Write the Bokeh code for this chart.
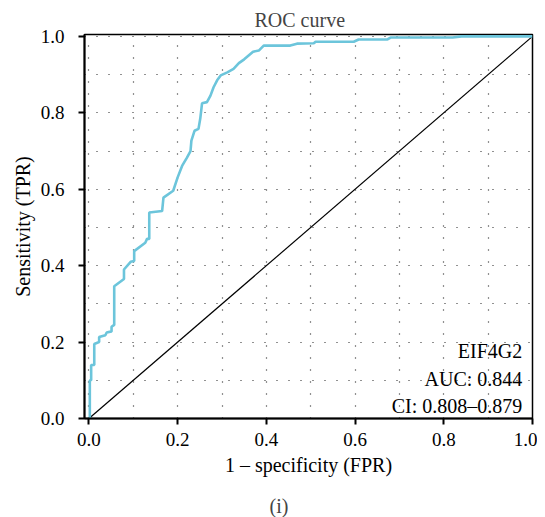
from bokeh.plotting import figure
from bokeh.models import Range1d, FixedTicker, Label, Title
from bokeh.embed import file_html
from bokeh.resources import INLINE

# ROC curve vertices
fpr = [0.0, 0.002, 0.002, 0.005, 0.005, 0.012, 0.012, 0.023, 0.023, 0.037, 0.040,
       0.051, 0.051, 0.057, 0.057, 0.079, 0.079, 0.094, 0.102, 0.102, 0.127, 0.131,
       0.136, 0.136, 0.165, 0.168, 0.190, 0.200, 0.210, 0.221, 0.229, 0.231, 0.238,
       0.247, 0.251, 0.255, 0.266, 0.274, 0.281, 0.289, 0.297, 0.312, 0.326, 0.338,
       0.350, 0.360, 0.370, 0.383, 0.394, 0.454, 0.469, 0.507, 0.511, 0.597, 0.608,
       0.673, 0.680, 0.820, 0.840, 1.0]
tpr = [0.0, 0.0, 0.100, 0.100, 0.140, 0.140, 0.195, 0.200, 0.213, 0.218, 0.225,
       0.228, 0.240, 0.245, 0.346, 0.365, 0.390, 0.410, 0.412, 0.438, 0.460, 0.470,
       0.470, 0.539, 0.543, 0.578, 0.596, 0.631, 0.661, 0.683, 0.700, 0.727, 0.753,
       0.758, 0.785, 0.825, 0.828, 0.845, 0.867, 0.885, 0.898, 0.906, 0.915, 0.930,
       0.940, 0.950, 0.960, 0.963, 0.976, 0.976, 0.981, 0.982, 0.986, 0.986, 0.992,
       0.992, 0.997, 0.997, 1.0, 1.0]
chance_x = [0.0, 1.0]
chance_y = [0.0, 1.0]
major_ticks = [0.0, 0.2, 0.4, 0.6, 0.8, 1.0]
grid_ticks = [0.0, 0.1, 0.2, 0.3, 0.4, 0.5, 0.6, 0.7, 0.8, 0.9, 1.0]
tick_labels = {0.0: "0.0", 0.2: "0.2", 0.4: "0.4", 0.6: "0.6", 0.8: "0.8", 1.0: "1.0"}
title_text = "ROC curve"
x_label = "1 \u2013 specificity (FPR)"
y_label = "Sensitivity (TPR)"
annot_lines = ["EIF4G2", "AUC: 0.844", "CI: 0.808\u20130.879"]
annot_y = [0.177, 0.103, 0.033]
caption = "(i)"

FONT = "Liberation Serif"

p = figure(frame_width=448, frame_height=384, output_backend="svg", toolbar_location=None,
           x_range=Range1d(-0.01, 1.0), y_range=Range1d(0.0, 1.005),
           min_border_left=84, min_border_right=5, min_border_top=34, min_border_bottom=3)

p.title.text = title_text
p.title.text_font = FONT
p.title.text_font_size = "20px"
p.title.text_font_style = "normal"
p.title.align = "left"
p.title.offset = 170
p.title.standoff = 7

p.outline_line_color = "black"
p.outline_line_width = 1.5
p.background_fill_color = "white"
p.border_fill_color = "white"

for ax in (p.xaxis[0], p.yaxis[0]):
    ax.ticker = FixedTicker(ticks=major_ticks)
    ax.major_label_overrides = tick_labels
    ax.major_label_text_font = FONT
    ax.major_label_text_font_size = "19px"
    ax.major_label_text_color = "black"
    ax.axis_label_text_font = FONT
    ax.axis_label_text_font_size = "20px"
    ax.axis_label_text_font_style = "normal"
    ax.axis_label_text_color = "black"
    ax.axis_line_width = 2
    ax.axis_line_color = "black"
    ax.major_tick_line_width = 2
    ax.major_tick_line_color = "black"
    ax.major_tick_out = 6
    ax.major_tick_in = 0
    ax.minor_tick_line_color = None

p.xaxis.axis_label = x_label
p.yaxis.axis_label = y_label
p.xaxis.major_label_standoff = 8
p.xaxis.axis_label_standoff = 5
p.yaxis.major_label_standoff = 14
p.yaxis.axis_label_standoff = 4

for g in (p.xgrid[0], p.ygrid[0]):
    g.ticker = FixedTicker(ticks=grid_ticks)
    g.grid_line_color = "#222222"
    g.grid_line_width = 1.2
    g.grid_line_dash = "1 11"

p.line(chance_x, chance_y, line_color="black", line_width=1.2)
p.line(fpr, tpr, line_color="#6CC5DB", line_width=2.6)

for txt, yy in zip(annot_lines, annot_y):
    p.add_layout(Label(x=0.977, y=yy, text=txt, text_align="right", text_baseline="middle",
                       text_font=FONT, text_font_size="20px", text_color="black"))

p.add_layout(Title(text=caption, align="left", offset=185, text_font=FONT, text_font_size="20px",
                   text_font_style="normal", standoff=29), "below")

open("out.html", "w").write(file_html(p, INLINE))
